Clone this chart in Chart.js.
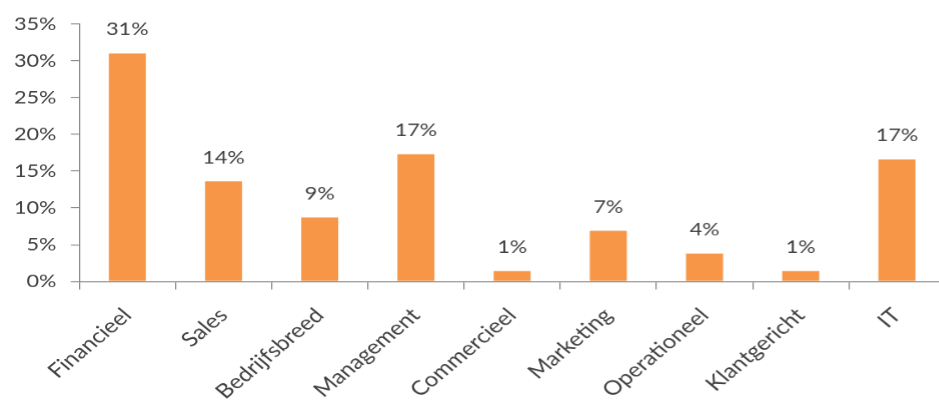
<!DOCTYPE html>
<html>
<head>
<meta charset="utf-8">
<script src="https://cdn.jsdelivr.net/npm/chart.js@4/dist/chart.umd.min.js"></script>
<style>
  html, body { margin: 0; padding: 0; background: #ffffff; overflow: hidden; }
  #view { width: 939px; height: 414px; overflow: hidden; }
  /* the chart is laid out narrow and widened, so its lettering is wide too */
  #stretch { width: 788px; height: 414px; transform: scaleX(1.2); transform-origin: 0 0; }
  canvas { display: block; }
</style>
</head>
<body>
<div id="view"><div id="stretch"><canvas id="chart" width="788" height="414"></canvas></div></div>
<script>
// Share of vacancies per field (percent)
const categories = ['Financieel', 'Sales', 'Bedrijfsbreed', 'Management', 'Commercieel', 'Marketing', 'Operationeel', 'Klantgericht', 'IT'];
const shares = [31.0, 13.6, 8.7, 17.3, 1.4, 6.9, 3.8, 1.4, 16.6];
const yTicks = [0, 5, 10, 15, 20, 25, 30, 35];

const AXIS = '#868686';
const TEXT = '#404040';
const BAR = '#F79646';
const FONT = 'Lato';

// Writes the rounded percentage above every bar
const valueLabels = {
  id: 'valueLabels',
  afterDatasetsDraw(chart) {
    const ctx = chart.ctx;
    const meta = chart.getDatasetMeta(0);
    ctx.save();
    ctx.font = '18px ' + FONT;
    ctx.fillStyle = TEXT;
    ctx.textAlign = 'center';
    ctx.textBaseline = 'alphabetic';
    meta.data.forEach((bar, i) => {
      const v = chart.data.datasets[0].data[i];
      ctx.fillText(Math.round(v) + '%', bar.x, bar.y - 18);
    });
    ctx.restore();
  }
};

new Chart(document.getElementById('chart'), {
  type: 'bar',
  data: {
    labels: categories,
    datasets: [{
      data: shares,
      backgroundColor: BAR,
      borderWidth: 0,
      barPercentage: 0.385,
      categoryPercentage: 1
    }]
  },
  options: {
    responsive: false,
    animation: false,
    devicePixelRatio: 1.2,
    layout: { padding: { top: 24, right: 1, bottom: 0, left: 0 } },
    plugins: {
      legend: { display: false },
      tooltip: { enabled: false }
    },
    scales: {
      x: {
        grid: { display: true, drawOnChartArea: false, drawTicks: true, tickLength: 8, color: AXIS, offset: true },
        border: { display: true, color: AXIS, width: 1 },
        ticks: {
          color: TEXT,
          font: { family: FONT, size: 20 },
          maxRotation: 45,
          minRotation: 45,
          autoSkip: false,
          padding: 14
        },
        afterFit(scale) { scale.height = 133; }
      },
      y: {
        min: 0,
        max: 35,
        afterBuildTicks(scale) { scale.ticks = yTicks.map(v => ({ value: v })); },
        grid: { display: true, drawOnChartArea: false, drawTicks: true, tickLength: 7, color: AXIS },
        border: { display: true, color: AXIS, width: 1 },
        ticks: {
          color: TEXT,
          font: { family: FONT, size: 18 },
          padding: 12,
          callback: v => v + '%'
        },
        afterFit(scale) { scale.width = 66; }
      }
    }
  },
  plugins: [valueLabels]
});
</script>
</body>
</html>
